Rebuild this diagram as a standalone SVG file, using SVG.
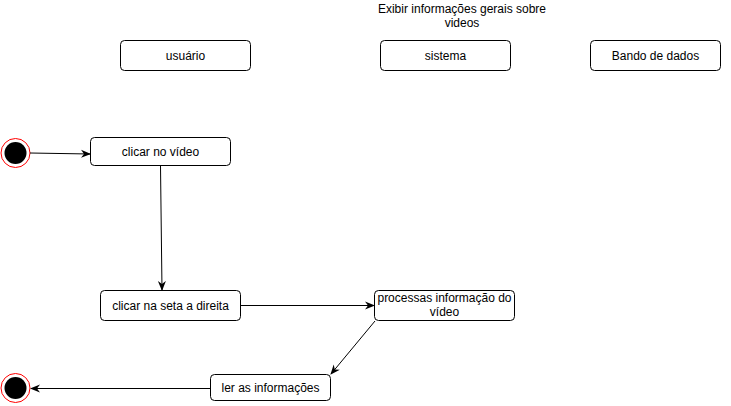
<svg xmlns="http://www.w3.org/2000/svg" width="731" height="406" viewBox="0 0 731 406">
<defs>
<style>
.box{fill:#fff;stroke:#000;stroke-width:1}
.t{font-family:"Liberation Sans",Arial,sans-serif;font-size:12px;fill:#000;text-anchor:middle}
.edge{stroke:#000;stroke-width:1;fill:none;marker-end:url(#arr)}
.ring{fill:#fff;stroke:#ff0000;stroke-width:1}
.dot{fill:#000}
</style>
<marker id="arr" viewBox="0 0 10 10" refX="9" refY="5" markerWidth="10" markerHeight="10" markerUnits="userSpaceOnUse" orient="auto">
<path d="M0,1 L10,5 L0,9 L3,5 Z" fill="#000"/>
</marker>
</defs>
<rect width="731" height="406" fill="#fff"/>
<g id="title">
<text class="t" x="462" y="13">Exibir informações gerais sobre</text>
<text class="t" x="462" y="27">videos</text>
</g>
<g id="usuario"><rect class="box" x="120.5" y="40.5" width="130" height="30" rx="4"/><text class="t" x="185.5" y="60">usuário</text></g>
<g id="sistema"><rect class="box" x="380.5" y="40.5" width="130" height="30" rx="4"/><text class="t" x="445.5" y="60">sistema</text></g>
<g id="banco"><rect class="box" x="590.5" y="40.5" width="130" height="30" rx="4"/><text class="t" x="655.5" y="60">Bando de dados</text></g>
<g id="start"><circle class="ring" cx="15.5" cy="153" r="14.5"/><circle class="dot" cx="15.5" cy="153" r="11"/></g>
<g id="clicar-video"><rect class="box" x="90.5" y="137.5" width="140" height="28" rx="4"/><text class="t" x="160.5" y="156">clicar no vídeo</text></g>
<g id="clicar-seta"><rect class="box" x="100.5" y="290.5" width="140" height="30" rx="4"/><text class="t" x="170.5" y="310">clicar na seta a direita</text></g>
<g id="processas"><rect class="box" x="374.5" y="290.5" width="140" height="30" rx="4"/><text class="t" x="444.5" y="302">processas informação do</text><text class="t" x="444.5" y="316">vídeo</text></g>
<g id="ler"><rect class="box" x="210.5" y="374.5" width="120" height="26" rx="4"/><text class="t" x="270.5" y="392">ler as informações</text></g>
<g id="end"><circle class="ring" cx="15.5" cy="388" r="14.5"/><circle class="dot" cx="15.5" cy="388" r="11"/></g>
<g id="connectors">
<path class="edge" d="M30,153 L90,154"/>
<path class="edge" d="M160.5,166 L162,290"/>
<path class="edge" d="M240.5,305.5 L374,305.5"/>
<path class="edge" d="M375,321 L331,374"/>
<path class="edge" d="M210,388.5 L31,388.5"/>
</g>
</svg>
